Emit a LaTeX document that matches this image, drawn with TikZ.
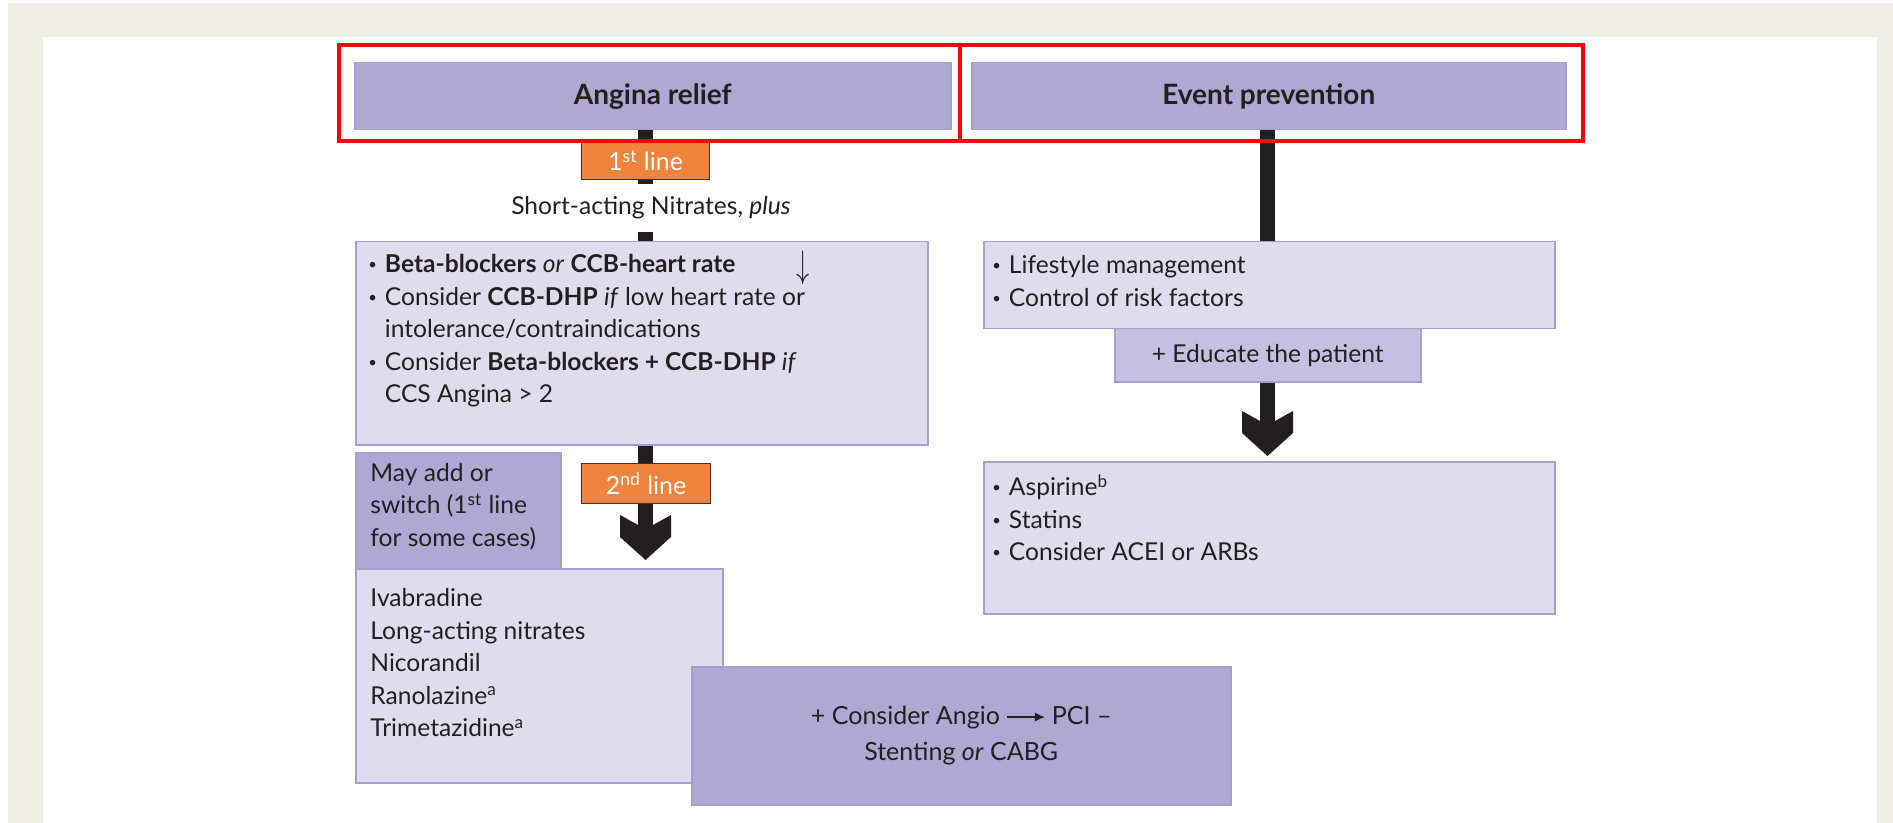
\documentclass[tikz,border=0pt]{standalone}
\usepackage{fontspec}
\setmainfont{Lato}
\usetikzlibrary{arrows.meta}
\definecolor{beige}{HTML}{EEEEE2}
\definecolor{dpurple}{HTML}{AFA8D3}
\definecolor{lpurple}{HTML}{DFDCEE}
\definecolor{mpurple}{HTML}{C5C0E1}
\definecolor{bordc}{HTML}{A59ECF}
\definecolor{orangec}{HTML}{F0843E}
\definecolor{ink}{HTML}{231F20}
\definecolor{redc}{HTML}{FF0000}
\newcommand\bodyfont{\fontsize{12.3pt}{16.25pt}\selectfont}
\newcommand\headfont{\fontsize{14pt}{17pt}\selectfont\bfseries}
\newcommand\bul{\raisebox{0.25ex}{\scalebox{0.6}{•}}\hspace{4pt}}
\newcommand\inlarrow{\tikz[baseline=-0.6ex]\draw[ink, line width=0.6pt, -{Latex[length=5pt,width=4.5pt]}] (0pt,0pt) -- (19pt,0pt);}
\begin{document}
\begin{tikzpicture}[x=0.5pt,y=-0.5pt,
  box/.style={draw=bordc, line width=0.75pt, inner sep=0pt, anchor=north west, text=ink},
  dbox/.style={box, fill=dpurple},
  lbox/.style={box, fill=lpurple},
  mbox/.style={box, fill=mpurple},
  tag/.style={draw=ink!90, line width=0.6pt, fill=orangec, text=white, inner sep=0pt, anchor=north west, font=\fontsize{12.5pt}{14pt}\selectfont},
  txt/.style={anchor=north west, inner sep=0pt, align=left, text=ink, font=\bodyfont},
  shaft/.style={draw=ink, line width=7.5pt},
  redbox/.style={draw=redc, line width=2.2pt},
  bighead/.pic={\fill[ink] (-7.5,-35) -- (-25.5,-45) -- (-25.5,-23) -- (0,0) -- (25.5,-23) -- (25.5,-45) -- (7.5,-35) -- cycle;}
]
\useasboundingbox (0,0) rectangle (1893,823);
\fill[white] (0,0) rectangle (1893,823);
\fill[beige] (8,3) rectangle (1893,823);
\fill[white] (43,37) rectangle (1877,823);

% boxes
\node[dbox, minimum width=298pt, minimum height=33.5pt, font=\headfont] (angina) at (354,62) {Angina relief};
\node[dbox, minimum width=297pt, minimum height=33.5pt, font=\headfont] (event) at (971,62) {Event prevention};
\node[lbox, minimum width=286pt, minimum height=101.5pt] (box1) at (355,241) {};
\node[lbox, minimum width=285.5pt, minimum height=43.5pt] (rbox1) at (983,241) {};
\node[mbox, minimum width=153pt, minimum height=26.5pt, font=\bodyfont] (educ) at (1114,328) {+ Educate the patient};
\node[lbox, minimum width=285.5pt, minimum height=76pt] (rbox2) at (983,461) {};
\node[dbox, minimum width=102.5pt, minimum height=58pt] (mayadd) at (355,452) {};
\node[lbox, minimum width=183.5pt, minimum height=107pt] (box2) at (355,568) {};
\node[dbox, minimum width=269.5pt, minimum height=69pt, align=center, font=\fontsize{12.5pt}{18pt}\selectfont] (angio) at (691,666) {+ Consider Angio \inlarrow\ PCI \textendash\\Stenting \textit{or} CABG};

% connectors
\coordinate (tipL) at (645.5,560);
\coordinate (tipR) at (1267.5,456);
\draw[shaft] (angina.south -| tipL) -- (box1.north -| tipL);
\draw[shaft] (box1.south -| tipL) -- ([yshift=15pt]tipL);
\pic at (tipL) {bighead};
\draw[shaft] (event.south -| tipR) -- (rbox1.north -| tipR);
\draw[shaft] (educ.south -| tipR) -- ([yshift=15pt]tipR);
\pic at (tipR) {bighead};

% tags
\node[tag, minimum width=64pt, minimum height=19pt] (first) at (581,141) {1\textsuperscript{st} line};
\node[tag, minimum width=64.5pt, minimum height=20pt] (second) at (581,463) {2\textsuperscript{nd} line};
\node[fill=white, inner xsep=3pt, inner ysep=0pt, minimum height=24pt, text=ink, font=\bodyfont] (short) at (651,208) {Short-acting Nitrates, \textit{plus}};

% texts
\node[txt] (box1t) at (368,249.6) {\strut\rlap{\hspace{214pt}\raisebox{-0.4ex}{\scalebox{1.1}[1.6]{$\downarrow$}}}\bul\textbf{Beta-blockers} \textit{or} \textbf{CCB-heart rate}\\
\bul Consider \textbf{CCB-DHP} \textit{if} low heart rate or\\
\phantom{\bul}intolerance/contraindications\\
\bul Consider \textbf{Beta-blockers + CCB-DHP} \textit{if}\\
\phantom{\bul}CCS Angina > 2};
\node[txt] (mayaddt) at (370,458.2) {\strut May add or\\switch (1\textsuperscript{st} line\\for some cases)};
\node[txt] (box2t) at (370,583.7) {\strut Ivabradine\\Long-acting nitrates\\Nicorandil\\Ranolazine\textsuperscript{a}\\Trimetazidine\textsuperscript{a}};
\node[txt] (rbox1t) at (992,250.7) {\strut\bul Lifestyle management\\\bul Control of risk factors};
\node[txt] (rbox2t) at (992,472.7) {\strut\bul Aspirine\textsuperscript{b}\\\bul Statins\\\bul Consider ACEI or ARBs};

% red highlight frames
\draw[redbox] (339,45) rectangle (960,141);
\draw[redbox] (960,45) rectangle (1583,141);
\end{tikzpicture}
\end{document}
